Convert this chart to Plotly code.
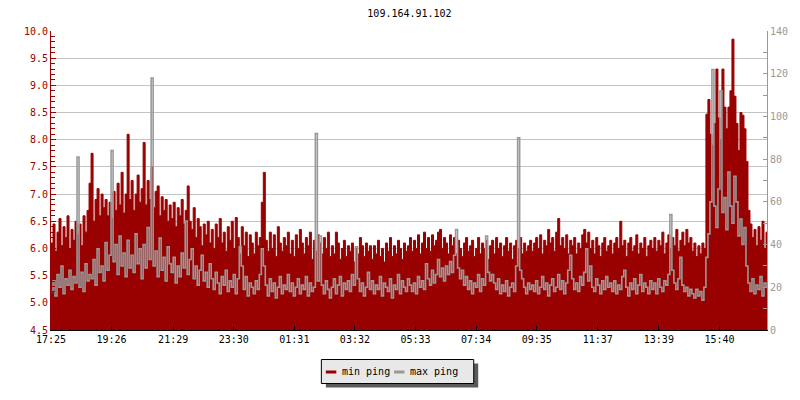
import datetime as dt
import plotly.graph_objects as go

title_text = "109.164.91.102"
series_names = ["min ping", "max ping"]
start_time = "17:25"
step_minutes = 4
span_minutes = 1430
tick_labels = ["17:25", "19:26", "21:29", "23:30", "01:31", "03:32",
               "05:33", "07:34", "09:35", "11:37", "13:39", "15:40"]

# min ping (left axis)
min_ping = [
    6.1, 6.45, 5.95, 6.3, 6.55, 6.05, 6.4, 6.2, 6.6, 6.0, 6.35, 6.15, 6.5, 6.25, 6.45, 6.05, 6.6, 6.3, 6.7, 7.2,
    7.75, 6.5, 6.9, 7.1, 6.6, 7.0, 6.75, 6.9, 6.6, 6.85, 6.55, 7.05, 6.7, 7.2, 6.8, 7.4, 6.65, 7.0, 8.1, 6.9,
    7.25, 6.7, 7.0, 7.35, 6.85, 7.1, 7.95, 6.8, 7.25, 6.9, 7.5, 6.75, 7.05, 7.15, 6.6, 6.95, 6.7, 6.9, 6.5, 6.8,
    6.55, 6.85, 6.4, 6.75, 6.6, 6.9, 6.45, 6.7, 7.15, 6.5, 6.35, 6.75, 6.2, 6.55, 6.4, 6.05, 6.45, 6.25, 6.5, 6.1,
    6.35, 6.0, 6.45, 6.2, 6.55, 6.1, 6.3, 5.95, 6.4, 6.15, 6.5, 6.0, 6.57, 6.2, 5.9, 6.4, 6.05, 6.3, 5.85, 6.25,
    6.1, 5.9, 6.3, 6.05, 6.2, 6.85, 7.4, 6.15, 5.95, 6.3, 6.0, 6.25, 5.85, 6.4, 6.1, 5.95, 6.2, 6.05, 6.3, 5.9,
    6.15, 5.85, 6.25, 6.0, 6.35, 6.1, 5.9, 6.2, 6.05, 6.3, 5.8, 6.15, 5.95, 6.25, 6.1, 5.9, 6.2, 6.0, 6.3, 5.85,
    6.05, 5.9, 6.3, 6.1, 5.8, 6.0, 6.15, 5.85, 6.05, 5.95, 6.1, 5.75, 6.0, 5.9, 6.2, 6.05, 5.85, 6.1, 5.95, 6.05,
    5.8, 6.05, 5.9, 6.15, 5.85, 6.0, 5.75, 6.1, 5.95, 6.2, 5.85, 6.05, 5.9, 6.15, 6.0, 5.8, 6.1, 5.95, 6.05, 6.2,
    5.95, 6.15, 6.0, 6.25, 5.9, 6.1, 6.3, 6.0, 6.2, 5.95, 6.25, 6.05, 6.15, 6.3, 6.35, 6.0, 6.2, 6.1, 5.9, 6.25,
    6.05, 6.2, 5.9, 6.15, 6.0, 5.85, 6.1, 6.2, 5.95, 6.05, 6.15, 5.85, 6.0, 6.2, 5.9, 6.1, 6.0, 6.15, 5.8, 6.05,
    6.15, 5.9, 6.2, 6.0, 6.1, 5.85, 6.05, 6.2, 5.95, 6.1, 5.8, 6.05, 6.15, 6.0, 6.2, 5.9, 6.1, 5.95, 6.05, 6.15,
    5.95, 6.1, 6.2, 6.0, 6.25, 5.9, 6.15, 6.05, 6.35, 6.1, 6.2, 5.95, 6.3, 6.55, 6.05, 6.2, 6.0, 6.25, 5.9, 6.15,
    6.05, 6.2, 5.9, 6.1, 6.0, 6.25, 6.35, 6.1, 6.3, 6.0, 6.15, 5.9, 6.2, 6.05, 5.85, 6.1, 6.2, 5.95, 6.05, 6.15,
    5.9, 6.1, 6.2, 6.0, 6.5, 6.05, 6.15, 5.85, 6.1, 6.2, 5.95, 6.05, 6.25, 5.9, 6.1, 6.0, 6.2, 5.85, 6.05, 6.15,
    6.0, 6.2, 5.95, 6.15, 6.05, 6.3, 5.9, 6.1, 6.25, 6.0, 6.2, 6.05, 6.35, 5.95, 6.15, 6.3, 6.05, 6.35, 6.1, 6.2,
    5.95, 6.1, 5.85, 6.05, 5.9, 6.1, 6.0, 8.47, 8.74, 8.1, 7.9, 8.3, 9.3, 8.4, 8.0, 9.3, 8.6, 8.2, 8.6, 8.9,
    9.85, 8.8, 8.3, 7.8, 8.5, 8.45, 8.2, 7.6, 6.7, 6.45, 6.2, 6.35, 6.05, 6.4, 6.15, 6.5, 6.0, 6.3, 6.45, 6.2,
]

# max ping (right axis)
max_ping = [
    18, 23, 16, 26, 20, 30, 17, 24, 21, 28, 19, 25, 22, 81, 20, 27, 18, 31, 23, 26,
    24, 33, 21, 38, 27, 30, 23, 41, 28, 35, 84, 32, 40, 26, 44, 30, 36, 25, 42, 29,
    35, 27, 45, 31, 38, 24, 40, 29, 48, 33, 118, 30, 37, 25, 43, 28, 34, 23, 39, 31,
    27, 34, 22, 30, 25, 36, 29, 51, 26, 33, 38, 24, 30, 21, 28, 35, 23, 27, 20, 31,
    24, 19, 27, 22, 17, 25, 21, 28, 18, 23, 20, 26, 17, 24, 39, 30, 19, 25, 16, 22,
    20, 17, 23, 19, 26, 38, 30, 21, 16, 24, 18, 22, 15, 20, 25, 17, 21, 19, 26, 18,
    22, 16, 20, 24, 17, 21, 19, 25, 16, 22, 18, 20, 92, 23, 44, 21, 17, 23, 19, 15,
    20, 24, 17, 21, 25, 16, 22, 19, 23, 18, 26, 21, 39, 24, 18, 22, 16, 20, 27, 19,
    23, 17, 21, 19, 25, 16, 22, 20, 18, 24, 15, 21, 19, 26, 17, 23, 20, 18, 24, 21,
    18, 22, 17, 25, 20, 23, 19, 31, 24, 21, 28, 22, 26, 33, 25, 29, 23, 30, 26, 32,
    27, 35, 47, 29, 24, 28, 21, 25, 19, 23, 17, 22, 20, 26, 18, 24, 21, 44, 27, 23,
    26, 22, 19, 24, 17, 21, 18, 23, 16, 20, 22, 18, 30, 90, 28, 24, 20, 17, 22, 19,
    21, 18, 23, 17, 20, 25, 19, 22, 16, 21, 24, 18, 20, 26, 19, 23, 17, 22, 28, 35,
    24, 19, 22, 18, 25, 21, 27, 38, 23, 30, 20, 18, 24, 21, 17, 23, 19, 25, 20, 22,
    18, 23, 17, 21, 19, 25, 28, 20, 16, 22, 19, 24, 17, 21, 26, 18, 22, 20, 17, 23,
    19, 22, 17, 24, 20, 18, 23, 21, 26, 54, 28, 22, 19, 24, 34, 21, 18, 20, 16, 19,
    17, 15, 19, 16, 18, 14, 20, 34, 45, 60, 122, 58, 48, 66, 112, 55, 62, 47, 74, 58,
    50, 72, 60, 44, 52, 40, 48, 30, 22, 18, 24, 17, 21, 19, 25, 16, 22, 20, 18, 23,
]

RED = "#990000"
GRAY = "#999999"
FONT = "DejaVu Sans Mono"

t0 = dt.datetime(2024, 5, 1, int(start_time[:2]), int(start_time[3:]))
x_times = [t0 + dt.timedelta(minutes=step_minutes * i) for i in range(len(min_ping))]


def label_time(lbl):
    h, m = int(lbl[:2]), int(lbl[3:])
    off = (h * 60 + m - (t0.hour * 60 + t0.minute)) % 1440
    return t0 + dt.timedelta(minutes=off)


tick_vals = [label_time(l) for l in tick_labels]

fig = go.Figure()
fig.add_trace(go.Scatter(
    x=x_times, y=min_ping, name=series_names[0], mode="lines",
    line=dict(color=RED, width=1, shape="hv"), fill="tozeroy", fillcolor=RED,
    showlegend=False, hoverinfo="skip"))
fig.add_trace(go.Scatter(
    x=x_times, y=max_ping, name=series_names[1], mode="lines", yaxis="y2",
    line=dict(color=GRAY, width=1.6, shape="hv"), showlegend=False, hoverinfo="skip"))

# page body has an 8px default margin; target plot area in page pixels:
OFF = 8
PL, PR, PT, PB = 51, 770, 31, 330
W, H = 800 - OFF, 400 - OFF
L, R, T, B = PL - OFF, W - (PR - OFF), PT - OFF, H - (PB - OFF)
pw, ph = W - L - R, H - T - B


def px(xp):
    return (xp - PL) / pw


def py(yp):
    return (PB - yp) / ph


shapes = [
    dict(type="rect", xref="paper", yref="paper", x0=px(327), x1=px(480), y0=py(363.5), y1=py(387.5),
         fillcolor="#5a5a5a", line=dict(width=0), layer="above"),
    dict(type="rect", xref="paper", yref="paper", x0=px(322.5), x1=px(475.5), y0=py(359.5), y1=py(383.5),
         fillcolor="#e8e8e8", line=dict(color="black", width=1), layer="above"),
    dict(type="line", xref="paper", yref="paper", x0=px(327), x1=px(337.5), y0=py(372), y1=py(372),
         line=dict(color=RED, width=3), layer="above"),
    dict(type="line", xref="paper", yref="paper", x0=px(395.5), x1=px(406), y0=py(372), y1=py(372),
         line=dict(color=GRAY, width=3), layer="above"),
]
annotations = [
    dict(text=series_names[0], xref="paper", yref="paper", x=px(341), y=py(371.5), xanchor="left",
         yanchor="middle", showarrow=False, font=dict(family=FONT, size=10, color="black")),
    dict(text=series_names[1], xref="paper", yref="paper", x=px(409.5), y=py(371.5), xanchor="left",
         yanchor="middle", showarrow=False, font=dict(family=FONT, size=10, color="black")),
]

fig.update_layout(
    width=W, height=H, margin=dict(l=L, r=R, t=T, b=B, pad=0),
    paper_bgcolor="white", plot_bgcolor="white",
    font=dict(family=FONT, size=10, color="black"),
    title=dict(text=title_text, x=px(411), xref="paper", xanchor="center", y=1 - (13 - OFF) / H,
               yanchor="middle", font=dict(family=FONT, size=10, color="black")),
    showlegend=False,
    shapes=shapes, annotations=annotations,
    xaxis=dict(type="date", range=[t0, t0 + dt.timedelta(minutes=span_minutes)],
               tickvals=tick_vals, ticktext=tick_labels, showgrid=False, zeroline=False,
               showline=True, linecolor="black", linewidth=1, ticks="inside", ticklen=4,
               tickcolor="black", tickfont=dict(family=FONT, size=10, color="black")),
    yaxis=dict(range=[4.5, 10.0], dtick=0.5, tick0=4.5, tickformat=".1f", showgrid=True,
               gridcolor="#c4c4c4", gridwidth=1, zeroline=False, showline=True, linecolor=RED,
               ticks="inside", ticklen=5, tickcolor=RED, tickfont=dict(family=FONT, size=10, color=RED),
               minor=dict(dtick=0.1, ticks="inside", ticklen=4, tickcolor=RED, showgrid=False)),
    yaxis2=dict(range=[0, 140], dtick=20, overlaying="y", side="right", showgrid=False, zeroline=False,
                showline=True, linecolor=GRAY, ticks="inside", ticklen=4, tickcolor=GRAY,
                tickfont=dict(family=FONT, size=10, color=GRAY),
                minor=dict(dtick=10, ticks="inside", ticklen=4, tickcolor=GRAY, showgrid=False)),
)

fig.write_html("out.html")
